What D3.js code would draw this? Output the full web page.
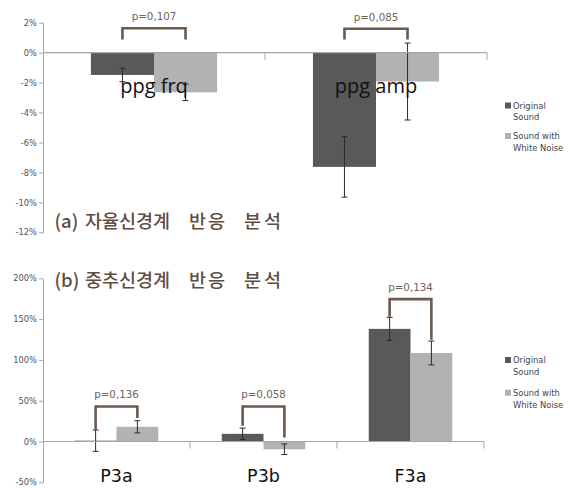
<!DOCTYPE html>
<html>
<head>
<meta charset="utf-8">
<script src="https://cdn.jsdelivr.net/npm/d3@7"></script>
<style>
  html, body { margin: 0; padding: 0; background: #ffffff; }
  svg { display: block; }
</style>
</head>
<body>
<svg id="chart" width="570" height="489"></svg>
<script>
// ---------- data ----------
const seriesNames = ["Original Sound", "Sound with White Noise"];
const legendLines = [["Original", "Sound"], ["Sound with", "White Noise"]];

// panel (a)
const categoriesA = ["ppg frq", "ppg amp"];
const originalA = [-1.49, -7.63];
const originalErrA = [0.45, 2.02];
const noiseA = [-2.65, -1.93];
const noiseErrA = [0.55, 2.57];
const pValuesA = ["p=0,107", "p=0,085"];
const bracketTopA = [1.63, 1.60];
const bracketLeftA = [0.87, 0.87];
const bracketRightA = [0.87, 0.87];
const ticksA = [2, 0, -2, -4, -6, -8, -10, -12];
const titleA = "(a) 자율신경계 반응 분석";

// panel (b)
const categoriesB = ["P3a", "P3b", "F3a"];
const originalB = [1, 9.4, 138];
const originalErrB = [13, 7, 14.2];
const noiseB = [18, -9.5, 108.5];
const noiseErrB = [7.5, 6.5, 14.6];
const pValuesB = ["p=0,136", "p=0,058", "p=0,134"];
const bracketTopB = [42.9, 42.9, 174.5];
const bracketLeftB = [14.3, 19.2, 153];
const bracketRightB = [28.7, 4.9, 124.6];
const ticksB = [200, 150, 100, 50, 0, -50];
const titleB = "(b) 중추신경계 반응 분석";

// ---------- styles / layout ----------
const colors = ["#59595b", "#b2b2b4"];
const axisColor = "#a6a6a6";
const bracketColor = "#6d5a4c";
const titleColor = "#5f4c42";
const titleWordX = [54.5, 85, 189, 244];
const titleWordSpacing = [0, 0, 2, 3];

const svg = d3.select("#chart");

function drawPanel(cfg) {
  const g = svg.append("g");
  const y = d3.scaleLinear().domain(cfg.domain).range(cfg.yRange);
  const x0 = d3.scaleBand().domain(cfg.categories).range(cfg.xRange).paddingInner(0).paddingOuter(0);
  const x1 = d3.scaleBand().domain(seriesNames).range([0, x0.bandwidth()])
    .paddingInner(0).paddingOuter(0.76);

  const rows = cfg.categories.map((c, i) => ({
    cat: c, i,
    vals: [
      { s: seriesNames[0], v: cfg.orig[i], e: cfg.origErr[i], k: 0 },
      { s: seriesNames[1], v: cfg.noise[i], e: cfg.noiseErr[i], k: 1 }
    ]
  }));

  // y axis
  const yAxis = d3.axisLeft(y).tickValues(cfg.ticks).tickFormat(d => d + "%")
    .tickSize(4).tickSizeOuter(0);
  const ya = g.append("g").attr("transform", `translate(${cfg.xRange[0]},0)`).call(yAxis);
  ya.select(".domain").attr("stroke", axisColor);
  ya.selectAll(".tick line").attr("stroke", axisColor);
  ya.selectAll(".tick text").attr("fill", "#555").attr("font-size", "8.3px")
    .attr("font-family", "DejaVu Sans, Verdana, sans-serif").attr("x", -6);

  // bars
  const groups = g.selectAll(".grp").data(rows).join("g")
    .attr("transform", d => `translate(${x0(d.cat)},0)`);
  groups.selectAll("rect").data(d => d.vals).join("rect")
    .attr("x", d => x1(d.s))
    .attr("width", x1.bandwidth())
    .attr("y", d => Math.min(y(d.v), y(0)))
    .attr("height", d => Math.abs(y(d.v) - y(0)))
    .attr("fill", d => colors[d.k]);

  // category baseline and boundary ticks
  g.append("line").attr("x1", cfg.xRange[0]).attr("x2", cfg.xRange[1])
    .attr("y1", y(0)).attr("y2", y(0)).attr("stroke", axisColor).attr("stroke-width", 1.2);
  const bounds = d3.range(1, cfg.categories.length + 1).map(i => cfg.xRange[0] + i * x0.step());
  g.selectAll(".bt").data(bounds).join("line")
    .attr("x1", d => d).attr("x2", d => d)
    .attr("y1", y(0)).attr("y2", y(0) + 7)
    .attr("stroke", axisColor);

  // error bars
  const eb = groups.selectAll(".eb").data(d => d.vals).join("g")
    .attr("transform", d => `translate(${x1(d.s) + x1.bandwidth() / 2},0)`);
  eb.append("line").attr("x1", 0).attr("x2", 0)
    .attr("y1", d => y(d.v + d.e)).attr("y2", d => y(d.v - d.e))
    .attr("stroke", "#2a2a2a").attr("stroke-width", 1);
  eb.append("line").attr("x1", -3).attr("x2", 3)
    .attr("y1", d => y(d.v + d.e)).attr("y2", d => y(d.v + d.e))
    .attr("stroke", "#2a2a2a").attr("stroke-width", 1);
  eb.append("line").attr("x1", -3).attr("x2", 3)
    .attr("y1", d => y(d.v - d.e)).attr("y2", d => y(d.v - d.e))
    .attr("stroke", "#2a2a2a").attr("stroke-width", 1);

  // significance brackets
  rows.forEach((r, i) => {
    const xl = x0(r.cat) + x1(seriesNames[0]) + x1.bandwidth() / 2;
    const xr = x0(r.cat) + x1(seriesNames[1]) + x1.bandwidth() / 2;
    const yt = y(cfg.bTop[i]);
    g.append("path")
      .attr("d", `M${xl},${y(cfg.bLeft[i])}V${yt}H${xr}V${y(cfg.bRight[i])}`)
      .attr("fill", "none").attr("stroke", bracketColor).attr("stroke-width", 2.6);
    g.append("text").attr("x", (xl + xr) / 2).attr("y", yt - 8)
      .attr("text-anchor", "middle").attr("fill", "#6e625a")
      .attr("font-family", "DejaVu Sans, Verdana, sans-serif")
      .attr("font-size", "10.3px").text(cfg.pvals[i]);
  });

  // category labels
  g.selectAll(".cl").data(cfg.categories).join("text")
    .attr("x", d => x0(d) + x0.bandwidth() / 2)
    .attr("y", cfg.labelY)
    .attr("text-anchor", "middle")
    .attr("fill", "#111")
    .attr("font-family", cfg.labelFont)
    .attr("font-size", cfg.labelSize)
    .text(d => d);

  // title (word by word)
  const tt = g.append("text").attr("y", cfg.titleY)
    .attr("fill", titleColor)
    .attr("font-family", "Noto Sans CJK KR, sans-serif")
    .attr("font-size", "18.5px")
    .attr("font-weight", 500);
  cfg.title.split(" ").forEach((w, i) => {
    tt.append("tspan").attr("x", titleWordX[i])
      .attr("letter-spacing", titleWordSpacing[i] + "px").text(w);
  });

  // legend
  const lg = g.append("g");
  legendLines.forEach((lines, k) => {
    const cy = cfg.legendY[k];
    lg.append("rect").attr("x", 505).attr("y", cy - 3).attr("width", 6).attr("height", 6)
      .attr("fill", colors[k]);
    lines.forEach((t, j) => {
      lg.append("text").attr("x", 513).attr("y", cy + 3 + j * cfg.legendLine)
        .attr("fill", "#444").attr("font-family", "DejaVu Sans, Verdana, sans-serif")
        .attr("font-size", "8.4px").text(t);
    });
  });
}

drawPanel({
  categories: categoriesA, orig: originalA, origErr: originalErrA,
  noise: noiseA, noiseErr: noiseErrA, pvals: pValuesA,
  bTop: bracketTopA, bLeft: bracketLeftA, bRight: bracketRightA,
  ticks: ticksA, domain: [-12, 2], yRange: [232.3, 22.7], xRange: [43, 487],
  labelY: 92.5, labelFont: "Open Sans, sans-serif", labelSize: "20px",
  title: titleA, titleY: 228,
  legendY: [105.5, 136], legendLine: 11.8
});

drawPanel({
  categories: categoriesB, orig: originalB, origErr: originalErrB,
  noise: noiseB, noiseErr: noiseErrB, pvals: pValuesB,
  bTop: bracketTopB, bLeft: bracketLeftB, bRight: bracketRightB,
  ticks: ticksB, domain: [-50, 200], yRange: [482.3, 278.3], xRange: [43, 484],
  labelY: 481.7, labelFont: "DejaVu Sans, Verdana, sans-serif", labelSize: "17.5px",
  title: titleB, titleY: 287,
  legendY: [360, 392.7], legendLine: 12.4
});
</script>
</body>
</html>
